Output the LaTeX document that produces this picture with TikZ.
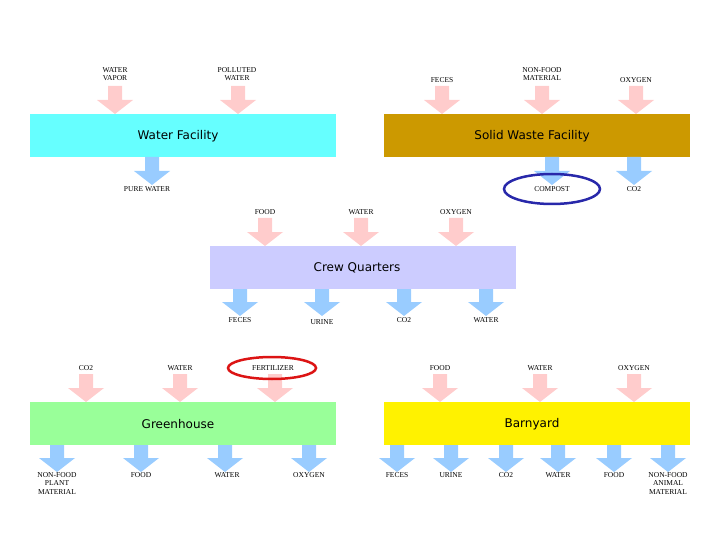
\documentclass[tikz,border=0pt]{standalone}
\usepackage{fontspec}
\setmainfont{Liberation Serif}
\newfontfamily\titlefont{DejaVu Sans}
\definecolor{inc}{HTML}{FFCCCC}
\definecolor{outc}{HTML}{99CCFF}
\newcommand\barr[4]{\fill[#4] (#1-7,#2) -- (#1+7,#2) -- (#1+7,#3-14) -- (#1+18,#3-14) -- (#1,#3) -- (#1-18,#3-14) -- (#1-7,#3-14) -- cycle;}
\begin{document}
\begin{tikzpicture}[x=1pt,y=-1pt,
  lbl/.style={font=\fontsize{7.5}{8.5}\selectfont, align=center, inner sep=0pt},
  box/.style={font=\titlefont\fontsize{12}{14}\selectfont, inner sep=0pt}]
\useasboundingbox (0,0) rectangle (720,540);
% boxes
\fill[cyan!60] (30,114) rectangle (336,157);
\definecolor{wf}{HTML}{66FFFF}\fill[wf] (30,114) rectangle (336,157);
\definecolor{sw}{HTML}{CC9900}\fill[sw] (384,114) rectangle (690,157);
\definecolor{cq}{HTML}{CCCCFF}\fill[cq] (210,246) rectangle (516,289);
\definecolor{gh}{HTML}{99FF99}\fill[gh] (30,402) rectangle (336,445);
\fill[yellow] (384,402) rectangle (690,445);
\node[box] (wft) at (178,136) {Water Facility};
\node[box] (swt) at (532,136) {Solid Waste Facility};
\node[box] (cqt) at (357,268) {Crew Quarters};
\node[box] (ght) at (178,424) {Greenhouse};
\node[box] (byt) at (532,424) {Barnyard};
% arrows
\barr{115}{86}{114}{inc}\barr{238}{86}{114}{inc}
\barr{442}{86}{114}{inc}\barr{542}{86}{114}{inc}\barr{636}{86}{114}{inc}
\barr{152}{157}{185}{outc}\barr{552}{157}{185}{outc}\barr{634}{157}{185}{outc}
\barr{265}{218}{246}{inc}\barr{361}{218}{246}{inc}\barr{456}{218}{246}{inc}
\barr{240}{289}{316}{outc}\barr{322}{289}{316}{outc}\barr{404}{289}{316}{outc}\barr{486}{289}{316}{outc}
\barr{86}{374}{402}{inc}\barr{180}{374}{402}{inc}\barr{275}{374}{402}{inc}
\barr{440}{374}{402}{inc}\barr{540}{374}{402}{inc}\barr{634}{374}{402}{inc}
\foreach \x in {57,141,225,309,397,451,506,558,614,668}{\barr{\x}{445}{472}{outc}}
% labels
\node[lbl] (l1) at (115,74) {WATER\\VAPOR};
\node[lbl] (l2) at (237,74) {POLLUTED\\WATER};
\node[lbl] (l3) at (442,80) {FECES};
\node[lbl] (l4) at (542,74) {NON-FOOD\\MATERIAL};
\node[lbl] (l5) at (636,80) {OXYGEN};
\node[lbl] (l6) at (147,189) {PURE WATER};
\node[lbl] (l7) at (552,189) {COMPOST};
\node[lbl] (l8) at (634,189) {CO2};
\node[lbl] (l9) at (265,212) {FOOD};
\node[lbl] (l10) at (361,212) {WATER};
\node[lbl] (l11) at (456,212) {OXYGEN};
\node[lbl] (l12) at (240,320) {FECES};
\node[lbl] (l13) at (322,322) {URINE};
\node[lbl] (l14) at (404,320) {CO2};
\node[lbl] (l15) at (486,320) {WATER};
\node[lbl] (l16) at (86,368) {CO2};
\node[lbl] (l17) at (180,368) {WATER};
\node[lbl] (l18) at (273,368) {FERTILIZER};
\node[lbl] (l19) at (440,368) {FOOD};
\node[lbl] (l20) at (540,368) {WATER};
\node[lbl] (l21) at (634,368) {OXYGEN};
\node[lbl,anchor=north] (l22) at (57,472) {NON-FOOD\\PLANT\\MATERIAL};
\node[lbl,anchor=north] (l23) at (141,472) {FOOD};
\node[lbl,anchor=north] (l24) at (227,472) {WATER};
\node[lbl,anchor=north] (l25) at (309,472) {OXYGEN};
\node[lbl,anchor=north] (l26) at (397,472) {FECES};
\node[lbl,anchor=north] (l27) at (451,472) {URINE};
\node[lbl,anchor=north] (l28) at (506,472) {CO2};
\node[lbl,anchor=north] (l29) at (558,472) {WATER};
\node[lbl,anchor=north] (l30) at (614,472) {FOOD};
\node[lbl,anchor=north] (l31) at (668,472) {NON-FOOD\\ANIMAL\\MATERIAL};
% highlight ellipses
\draw[line width=2.5pt, color={rgb,255:red,40;green,40;blue,170}] (552,189) ellipse (48 and 15);
\draw[line width=2.5pt, color={rgb,255:red,220;green,20;blue,20}] (272,368) ellipse (44 and 11);
\end{tikzpicture}
\end{document}
